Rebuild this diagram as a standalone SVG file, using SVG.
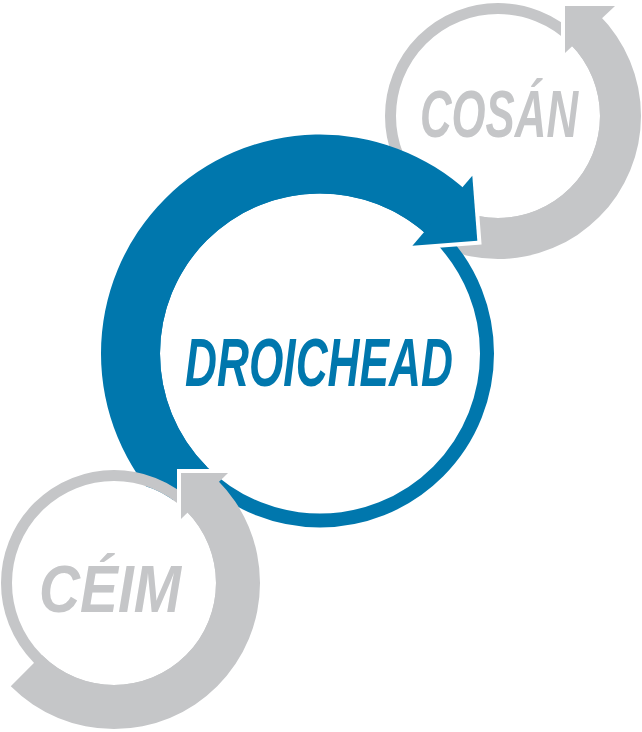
<svg xmlns="http://www.w3.org/2000/svg" width="642" height="732" viewBox="0 0 642 732">
  <defs>
    <style>
      .gray { fill: #C5C6C8; }
      .grayring { fill: none; stroke: #C5C6C8; }
      .blue { fill: #0077AD; }
      .bluering { fill: none; stroke: #0077AD; }
      .hole { fill: #FFFFFF; }
      .halo { fill: none; stroke: #FFFFFF; stroke-width: 8; stroke-linejoin: miter; stroke-linecap: butt; }
      .lbl { font-family: 'Liberation Sans Narrow', 'Liberation Sans', Arial, sans-serif; font-weight: bold; font-style: italic; }
    </style>
  </defs>

  <!-- COSÁN (top right) -->
  <g id="cosan" transform="translate(498,116)">
    <circle class="hole" r="102"/>
    <circle class="grayring" r="107.5" stroke-width="11"/>
    <path class="gray" d="M 100.76,-101.47 A 143 143 0 0 1 101.12,101.12 A 143 143 0 0 1 -101.12,101.12 L -72.12,72.12 A 102 102 0 0 0 72.12,72.12 A 102 102 0 0 0 71.87,-72.38 Z"/>
    <polyline class="halo" points="117,-110 67,-110 67,-63"/>
    <polygon class="gray" points="117,-110 67,-110 67,-63"/>
    <text class="lbl gray" x="-78" y="21" font-size="66" textLength="158" lengthAdjust="spacingAndGlyphs">COSÁN</text>
  </g>

  <!-- DROICHEAD (centre, blue) -->
  <g id="droichead" transform="translate(320,353.5)">
    <circle class="hole" r="160"/>
    <circle class="bluering" r="167" stroke-width="14"/>
    <path class="blue" d="M -154.86,154.86 A 219 219 0 0 1 -154.86,-154.86 A 219 219 0 0 1 148.24,-161.20 L 108.30,-117.78 A 160 160 0 0 0 -113.14,-113.14 A 160 160 0 0 0 -113.14,113.14 Z"/>
    <polyline class="halo" points="152.3,-177.7 157.3,-112.8 92.4,-107.8"/>
    <polygon class="blue" points="152.3,-177.7 157.3,-112.8 92.4,-107.8"/>
    <text class="lbl blue" x="-135" y="32.5" font-size="68" textLength="268" lengthAdjust="spacingAndGlyphs">DROICHEAD</text>
  </g>

  <!-- CÉIM (bottom left) -->
  <g id="ceim" transform="translate(114,583)">
    <circle class="hole" r="102"/>
    <circle class="grayring" r="107.5" stroke-width="11"/>
    <path class="gray" d="M 102.88,-103.60 A 146 146 0 0 1 103.24,103.24 A 146 146 0 0 1 -103.24,103.24 L -72.12,72.12 A 102 102 0 0 0 72.12,72.12 A 102 102 0 0 0 71.87,-72.38 Z"/>
    <polyline class="halo" points="114,-110 67,-110 67,-64"/>
    <polygon class="gray" points="114,-110 67,-110 67,-64"/>
    <text class="lbl gray" x="-75" y="29" font-size="67" textLength="142" lengthAdjust="spacingAndGlyphs">CÉIM</text>
  </g>

  <g id="connectors"></g>
</svg>
